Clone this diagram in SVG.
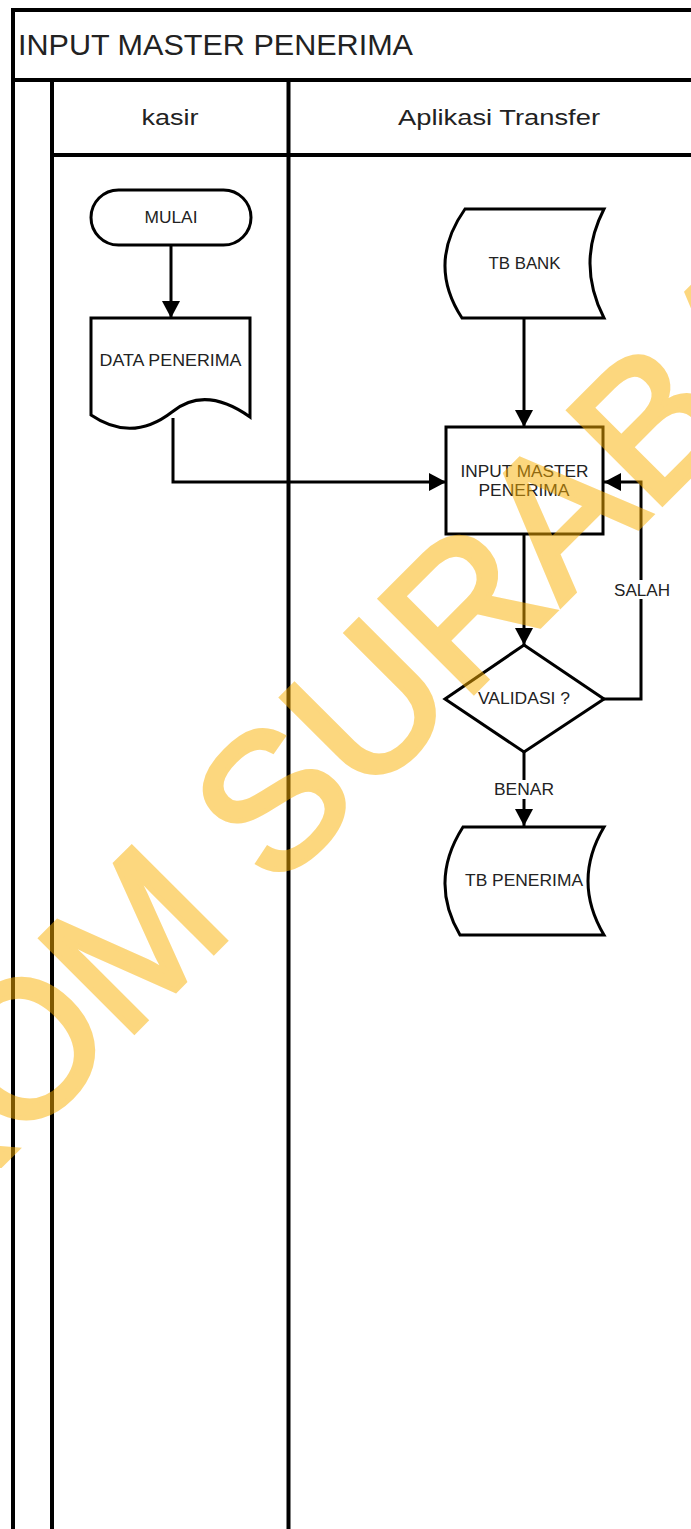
<svg xmlns="http://www.w3.org/2000/svg" width="691" height="1529" viewBox="0 0 691 1529">
  <defs>
    <style>
      .frame{fill:none;stroke:#000;stroke-width:4}
      .shape{fill:#fff;stroke:#000;stroke-width:3;stroke-linejoin:miter}
      .conn{fill:none;stroke:#000;stroke-width:3}
      .lbl{font-family:"Liberation Sans",Arial,sans-serif;font-size:16px;fill:#222;text-anchor:middle}
      .hdr{font-family:"Liberation Sans",Arial,sans-serif;font-size:22px;fill:#222;text-anchor:middle}
      .title{font-family:"Liberation Sans",Arial,sans-serif;font-size:29px;fill:#222}
      .wm{font-family:"Liberation Sans",Arial,sans-serif;font-size:192px;fill:#FBB000;stroke:#FBB000;stroke-width:5;stroke-linejoin:miter;opacity:0.5}
    </style>
    <marker id="arr" markerUnits="userSpaceOnUse" markerWidth="18" markerHeight="18" refX="17" refY="9" orient="auto">
      <path d="M0,0 L17,9 L0,18 Z" fill="#000"/>
    </marker>
  </defs>
  <rect width="691" height="1529" fill="#fff"/>

  <g id="pool">
    <path class="frame" d="M13,1529 L13,10 L695,10"/>
    <path class="frame" d="M13,80 L695,80"/>
    <path class="frame" d="M52,1529 L52,80"/>
    <path class="frame" d="M52,155 L695,155"/>
    <path class="frame" d="M288.5,1529 L288.5,80"/>
    <text class="title" x="18" y="55" textLength="395" lengthAdjust="spacingAndGlyphs">INPUT MASTER PENERIMA</text>
  </g>
  <g id="lane-kasir">
    <text class="hdr" x="170" y="124.5" textLength="57" lengthAdjust="spacingAndGlyphs">kasir</text>
  </g>
  <g id="lane-aplikasi">
    <text class="hdr" x="499" y="125" textLength="202" lengthAdjust="spacingAndGlyphs">Aplikasi Transfer</text>
  </g>

  <g id="connectors">
    <path class="conn" d="M171,245 L171,318" marker-end="url(#arr)"/>
    <path class="conn" d="M173,418 L173,482 L446,482" marker-end="url(#arr)"/>
    <path class="conn" d="M524,318 L524,427" marker-end="url(#arr)"/>
    <path class="conn" d="M524,534 L524,645" marker-end="url(#arr)"/>
    <path class="conn" d="M604,699 L641,699 L641,482 L604,482" marker-end="url(#arr)"/>
    <path class="conn" d="M524,752 L524,826" marker-end="url(#arr)"/>
    <rect x="612" y="580" width="60" height="19" fill="#fff"/>
    <text class="lbl" x="642" y="595.5" textLength="56" lengthAdjust="spacingAndGlyphs">SALAH</text>
    <rect x="492" y="780" width="64" height="19" fill="#fff"/>
    <text class="lbl" x="524" y="795" textLength="60" lengthAdjust="spacingAndGlyphs">BENAR</text>
  </g>

  <g id="mulai">
    <rect class="shape" x="91" y="190" width="160" height="55" rx="27.5" ry="27.5"/>
    <text class="lbl" x="171" y="223" textLength="53" lengthAdjust="spacingAndGlyphs">MULAI</text>
  </g>
  <g id="data-penerima">
    <path class="shape" d="M91,318 L250,318 L250,417 Q205,385 172,412 Q132,443 91,415 Z"/>
    <text class="lbl" x="170.5" y="366" textLength="142" lengthAdjust="spacingAndGlyphs">DATA PENERIMA</text>
  </g>
  <g id="tb-bank">
    <path class="shape" d="M465,209 L604,209 Q576,263.5 604,318 L462,318 Q426.5,263.5 465,209 Z"/>
    <text class="lbl" x="524.5" y="269" textLength="72" lengthAdjust="spacingAndGlyphs">TB BANK</text>
  </g>
  <g id="input-master">
    <rect class="shape" x="446" y="427" width="157" height="107"/>
    <text class="lbl" x="524.5" y="476.5" textLength="128" lengthAdjust="spacingAndGlyphs">INPUT MASTER</text>
    <text class="lbl" x="524" y="495.5" textLength="91" lengthAdjust="spacingAndGlyphs">PENERIMA</text>
  </g>
  <g id="validasi">
    <path class="shape" d="M524,645 L604,699 L524,752 L445,699 Z"/>
    <text class="lbl" x="524" y="704" textLength="92" lengthAdjust="spacingAndGlyphs">VALIDASI ?</text>
  </g>
  <g id="tb-penerima">
    <path class="shape" d="M463,827 L604,827 Q572,881 604,935 L460,935 Q428.5,881 463,827 Z"/>
    <text class="lbl" x="524" y="886" textLength="118" lengthAdjust="spacingAndGlyphs">TB PENERIMA</text>
  </g>

  <g id="watermark">
    <text class="wm" transform="translate(-284,1450) rotate(-45)">STIKOM SURABAYA</text>
  </g>
</svg>
